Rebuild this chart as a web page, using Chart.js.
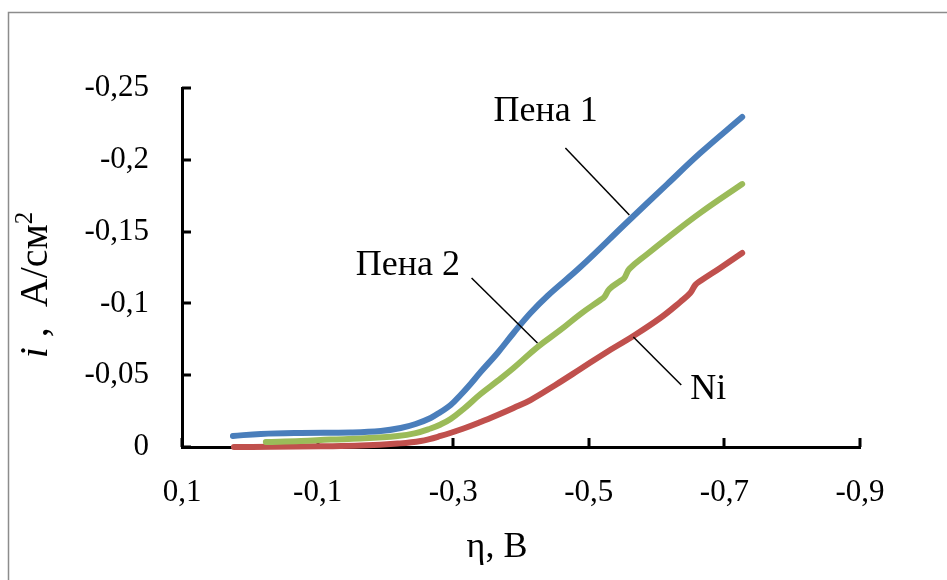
<!DOCTYPE html>
<html lang="ru">
<head>
    <meta charset="UTF-8">
    <title>i(η)</title>
    <style>
        html, body { margin: 0; padding: 0; background: #fff; }
        #chart { display: block; }
    </style>
    <script src="https://cdn.jsdelivr.net/npm/chart.js"></script>
</head>
<body>
    <canvas id="chart" width="947" height="580"></canvas>

    <script>
        // tick labels
        const xTicks = [0.1, -0.1, -0.3, -0.5, -0.7, -0.9];
        const yTicks = [0, -0.05, -0.1, -0.15, -0.2, -0.25];

        // Пена 1
        const foam1Eta = [0.0249, -0.0163, -0.0753, -0.1489, -0.1931, -0.2225, -0.2446, -0.2667, -0.2814, -0.2962, -0.3109, -0.3256, -0.3404, -0.3654, -0.389, -0.414, -0.439, -0.4876, -0.5568, -0.6158, -0.6644, -0.7262];
        const foam1I   = [-0.0077, -0.0091, -0.0098, -0.0101, -0.0111, -0.0132, -0.016, -0.0202, -0.0244, -0.0292, -0.0362, -0.0439, -0.0522, -0.0655, -0.0794, -0.0933, -0.1052, -0.1253, -0.1567, -0.1831, -0.2047, -0.2298];

        // Пена 2
        const foam2Eta = [-0.0237, -0.0753, -0.1194, -0.1636, -0.2181, -0.2446, -0.2667, -0.2814, -0.2962, -0.3153, -0.3404, -0.3654, -0.389, -0.4243, -0.4582, -0.4876, -0.5171, -0.523, -0.5303, -0.5465, -0.5524, -0.5598, -0.5863, -0.6158, -0.6644, -0.7262];
        const foam2I   = [-0.0035, -0.0042, -0.0052, -0.0059, -0.0077, -0.0097, -0.0129, -0.0157, -0.0195, -0.0265, -0.0369, -0.046, -0.055, -0.0696, -0.0815, -0.0926, -0.1024, -0.1045, -0.11, -0.1156, -0.1177, -0.124, -0.1344, -0.1455, -0.163, -0.1831];

        // Ni
        const niEta = [0.0234, -0.0311, -0.1047, -0.1636, -0.2181, -0.252, -0.2814, -0.3153, -0.3404, -0.3654, -0.389, -0.414, -0.4508, -0.4876, -0.5244, -0.5657, -0.6054, -0.6349, -0.6496, -0.657, -0.6644, -0.6938, -0.7262];
        const niI   = [0, -0.0001, -0.0005, -0.001, -0.0024, -0.0042, -0.0077, -0.0129, -0.0174, -0.0223, -0.0272, -0.0327, -0.0432, -0.0543, -0.0655, -0.0773, -0.0898, -0.101, -0.1072, -0.1128, -0.1156, -0.1247, -0.1351];

        // подписи кривых (в единицах осей)
        const notes = [
            { text: 'Пена 1', at: [-0.3595, -0.227], from: [-0.4655, -0.2082], to: [-0.5598, -0.1616] },
            { text: 'Пена 2', at: [-0.1563, -0.1198], from: [-0.3271, -0.1177], to: [-0.4243, -0.0724] },
            { text: 'Ni', at: [-0.6496, -0.0334], from: [-0.6364, -0.0432], to: [-0.5657, -0.0766] }
        ];

        const FONT = "'Liberation Serif', 'Times New Roman', serif";

        function toPoints(xs, ys) {
            return xs.map((x, i) => ({ x: x, y: ys[i] }));
        }

        function fmt(v) {
            return String(Number(v.toFixed(2))).replace('.', ',');
        }

        // рамка, внутренние засечки, подписи
        const extras = {
            id: 'extras',
            beforeDraw(chart) {
                const ctx = chart.ctx;
                ctx.save();
                ctx.strokeStyle = '#8c8c8c';
                ctx.lineWidth = 1.5;
                ctx.strokeRect(8.5, 12.5, 1200, 1200);
                ctx.restore();
            },
            beforeDatasetsDraw(chart) {
                const ctx = chart.ctx;
                const xs = chart.scales.x, ys = chart.scales.y;
                const a = chart.chartArea;
                ctx.save();
                ctx.strokeStyle = '#000';
                ctx.lineWidth = 3;
                ctx.beginPath();
                xTicks.forEach(v => {
                    const px = Math.round(xs.getPixelForValue(v));
                    ctx.moveTo(px, a.bottom);
                    ctx.lineTo(px, a.bottom - 9);
                });
                yTicks.forEach(v => {
                    const py = Math.round(ys.getPixelForValue(v));
                    ctx.moveTo(a.left, py);
                    ctx.lineTo(a.left + 9, py);
                });
                ctx.stroke();
                ctx.restore();
            },
            afterDraw(chart) {
                const ctx = chart.ctx;
                const xs = chart.scales.x, ys = chart.scales.y;
                ctx.save();
                ctx.fillStyle = '#000';
                ctx.strokeStyle = '#000';
                ctx.lineWidth = 1.5;
                ctx.font = '36px ' + FONT;
                ctx.textBaseline = 'alphabetic';
                notes.forEach(n => {
                    ctx.beginPath();
                    ctx.moveTo(xs.getPixelForValue(n.from[0]), ys.getPixelForValue(n.from[1]));
                    ctx.lineTo(xs.getPixelForValue(n.to[0]), ys.getPixelForValue(n.to[1]));
                    ctx.stroke();
                    ctx.fillText(n.text, xs.getPixelForValue(n.at[0]), ys.getPixelForValue(n.at[1]));
                });

                // η, В
                ctx.textAlign = 'center';
                ctx.fillText('η, В', 497, 557);

                // i , А/см²
                ctx.translate(47, 285);
                ctx.rotate(-Math.PI / 2);
                ctx.textAlign = 'left';
                const italic = 'italic 40px ' + FONT;
                const normal = '40px ' + FONT;
                const small = '25px ' + FONT;
                ctx.font = italic; const w1 = ctx.measureText('i').width;
                ctx.font = normal; const w2 = ctx.measureText(' ,  А/см').width;
                ctx.font = small; const w3 = ctx.measureText('2').width;
                let x0 = -(w1 + w2 + w3) / 2;
                ctx.font = italic; ctx.fillText('i', x0, 0); x0 += w1;
                ctx.font = normal; ctx.fillText(' ,  А/см', x0, 0); x0 += w2;
                ctx.font = small; ctx.fillText('2', x0, -15);
                ctx.restore();
            }
        };

        const ctx = document.getElementById('chart').getContext('2d');
        new Chart(ctx, {
            type: 'scatter',
            data: {
                datasets: [
                    { label: 'Пена 1', data: toPoints(foam1Eta, foam1I), borderColor: '#4a7ebb' },
                    { label: 'Пена 2', data: toPoints(foam2Eta, foam2I), borderColor: '#9bbb59' },
                    { label: 'Ni', data: toPoints(niEta, niI), borderColor: '#c0504d' }
                ].map(d => Object.assign(d, {
                    showLine: true,
                    pointRadius: 0,
                    borderWidth: 6,
                    borderCapStyle: 'round',
                    borderJoinStyle: 'round',
                    tension: 0.4,
                    clip: false
                }))
            },
            options: {
                responsive: false,
                animation: false,
                devicePixelRatio: 1,
                layout: { padding: { left: 0, top: 88, right: 87, bottom: 0 } },
                plugins: { legend: { display: false }, tooltip: { enabled: false } },
                scales: {
                    x: {
                        type: 'linear',
                        reverse: true,
                        min: -0.9,
                        max: 0.1,
                        afterBuildTicks: s => { s.ticks = xTicks.map(v => ({ value: v })); },
                        afterFit: s => { s.height = 133; },
                        grid: { display: false },
                        border: { display: true, color: '#000', width: 3 },
                        ticks: {
                            color: '#000',
                            font: { family: FONT, size: 31 },
                            padding: 19,
                            maxRotation: 0,
                            callback: v => fmt(v)
                        }
                    },
                    y: {
                        type: 'linear',
                        reverse: true,
                        min: -0.25,
                        max: 0,
                        afterBuildTicks: s => { s.ticks = yTicks.map(v => ({ value: v })); },
                        afterFit: s => { s.width = 182; },
                        grid: { display: false },
                        border: { display: true, color: '#000', width: 3 },
                        ticks: {
                            color: '#000',
                            font: { family: FONT, size: 31 },
                            padding: 25,
                            callback: v => fmt(v)
                        }
                    }
                }
            },
            plugins: [extras]
        });
    </script>
</body>
</html>
